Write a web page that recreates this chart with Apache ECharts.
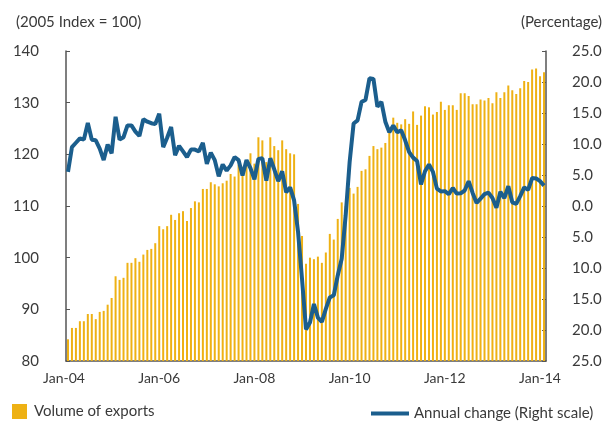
<!DOCTYPE html>
<html>
<head>
<meta charset="utf-8">
<script src="https://cdn.jsdelivr.net/npm/echarts@6/dist/echarts.min.js"></script>
<style>
  html, body { margin: 0; padding: 0; background: #fff; }
  #chart { width: 609px; height: 423px; }
</style>
</head>
<body>
<div id="chart"></div>
<script>
// monthly categories, Jan-04 .. Jan-14
const years = ['04', '05', '06', '07', '08', '09', '10', '11', '12', '13', '14'];
const monthNames = ['Jan', 'Feb', 'Mar', 'Apr', 'May', 'Jun', 'Jul', 'Aug', 'Sep', 'Oct', 'Nov', 'Dec'];
const months = [];
years.forEach(function (y, i) {
  monthNames.forEach(function (m, j) {
    if (i < years.length - 1 || j === 0) months.push(m + '-' + y);
  });
});

// Volume of exports (2005 index = 100)
const exportVolume = [
  84.2, 86.4, 86.4, 87.7, 87.7, 89.1, 89.1, 88.1, 89.5, 89.7, 90.9, 92.2,
  96.4, 95.7, 96.1, 99.0, 99.0, 99.9, 99.2, 100.6, 101.5, 101.7, 102.8, 106.1,
  105.5, 106.1, 108.3, 107.3, 108.6, 109.0, 107.1, 109.6, 110.9, 110.7, 113.3, 113.3,
  114.6, 114.2, 113.8, 114.4, 114.9, 116.2, 115.7, 118.0, 116.0, 118.8, 120.2, 118.2,
  123.3, 122.7, 118.5, 123.3, 121.6, 120.8, 122.7, 121.0, 120.2, 120.0, 110.4, 104.2,
  98.8, 100.0, 99.7, 100.2, 99.0, 101.0, 104.6, 103.5, 107.5, 110.7, 110.0, 113.5,
  112.4, 113.7, 116.8, 117.1, 119.7, 121.6, 121.0, 121.3, 122.2, 124.5, 127.1, 126.1,
  125.8, 126.8, 125.9, 128.3, 125.7, 127.5, 129.3, 129.1, 127.7, 128.2, 130.2, 128.6,
  129.5, 129.5, 128.6, 131.8, 131.8, 131.3, 129.7, 129.7, 130.6, 130.4, 130.9, 129.9,
  132.0, 130.9, 132.0, 133.3, 132.4, 131.7, 132.8, 134.2, 134.0, 136.4, 136.6, 135.1,
  135.9
];

// Annual change, percent (right scale)
const annualChange = [
  5.5, 9.5, 10.2, 10.9, 10.7, 13.4, 10.7, 10.6, 9.25, 7.4, 9.9, 8.5,
  14.4, 10.7, 11.1, 13.0, 13.0, 12.0, 11.3, 14.0, 13.6, 13.35, 13.2, 14.9,
  9.5, 11.0, 12.75, 8.2, 9.7, 8.8, 7.9, 9.1, 9.1, 8.8, 10.2, 6.8,
  8.6, 7.4, 4.8, 6.7, 5.7, 6.55, 7.9, 7.4, 4.9, 7.4, 6.1, 4.3,
  7.6, 7.7, 4.1, 7.7, 5.9, 4.0, 5.6, 2.2, 3.0, 0.9, -4.2, -11.8,
  -19.9, -18.8, -15.8, -18.0, -18.7, -16.6, -14.75, -14.4, -11.2, -8.5, -1.5, 7.1,
  13.3, 13.8, 16.8, 17.1, 20.6, 20.5, 16.0, 16.8, 13.6, 11.9, 13.0, 11.9,
  12.2, 10.6, 8.7, 7.8, 7.25, 3.5, 5.6, 6.7, 5.5, 2.8, 2.35, 2.4,
  1.9, 2.9, 2.0, 2.05, 2.5, 4.0, 2.1, 0.5, 1.2, 1.9, 2.15, 1.3,
  -0.3, 2.3, 1.25, 3.2, 0.6, 0.35, 1.6, 3.0, 2.6, 4.5, 4.45, 4.0,
  3.3
];

const textColor = '#3a3a3a';
const axisColor = '#555';
const font = 'Lato';
const lineColor = '#1b5e8d';

const chart = echarts.init(document.getElementById('chart'));

chart.setOption({
  animation: false,
  textStyle: { fontFamily: font, color: textColor },
  grid: { left: 66, right: 63, top: 51, bottom: 62 },
  title: [
    { text: '(2005 Index = 100)', left: 11, top: 10,
      textStyle: { fontFamily: font, fontSize: 15, fontWeight: 'normal', color: textColor } },
    { text: '(Percentage)', right: 2, top: 10,
      textStyle: { fontFamily: font, fontSize: 15, fontWeight: 'normal', color: textColor } }
  ],
  legend: [
    {
      data: ['Volume of exports'], left: 12, top: 404, padding: 0,
      itemWidth: 15, itemHeight: 15, icon: 'rect',
      textStyle: { fontFamily: font, fontSize: 15, color: textColor, padding: [0, 0, 0, 2] }
    },
    {
      data: [{ name: 'Annual change (Right scale)', icon: 'rect' }], left: 371, top: 406, padding: 0,
      itemWidth: 38, itemHeight: 4,
      textStyle: { fontFamily: font, fontSize: 15, color: textColor }
    }
  ],
  xAxis: {
    type: 'category',
    data: months,
    boundaryGap: true,
    axisLine: { onZero: false, lineStyle: { color: axisColor, width: 1.5 } },
    axisTick: {
      inside: true, length: 4,
      interval: function (index) { return index % 12 === 0; },
      lineStyle: { color: axisColor }
    },
    axisLabel: {
      interval: function (index) { return index % 24 === 0; },
      fontFamily: font, fontSize: 14, color: textColor, margin: 10,
      padding: [0, 8, 0, 0]
    },
    splitLine: { show: false }
  },
  yAxis: [
    {
      type: 'value', min: 80, max: 140, interval: 10,
      axisLine: { show: true, lineStyle: { color: axisColor, width: 1.5 } },
      axisTick: { show: true, inside: true, length: 4, lineStyle: { color: axisColor } },
      axisLabel: { fontFamily: font, fontSize: 15, color: textColor, margin: 27 },
      splitLine: { show: false }
    },
    {
      type: 'value', min: -25, max: 25, interval: 5,
      axisLine: { show: true, lineStyle: { color: axisColor, width: 1.5 } },
      axisTick: { show: true, inside: true, length: 4, lineStyle: { color: axisColor } },
      axisLabel: {
        fontFamily: font, fontSize: 15, color: textColor, margin: 26,
        formatter: function (v) { return Math.abs(v).toFixed(1); }
      },
      splitLine: { show: false }
    }
  ],
  series: [
    {
      name: 'Volume of exports',
      type: 'bar',
      data: exportVolume,
      barWidth: 2,
      itemStyle: { color: '#EEB114' }
    },
    {
      name: 'Annual change (Right scale)',
      type: 'line',
      yAxisIndex: 1,
      data: annualChange,
      symbol: 'none',
      z: 5,
      lineStyle: { color: lineColor, width: 4 },
      itemStyle: { color: lineColor }
    }
  ]
});
</script>
</body>
</html>
